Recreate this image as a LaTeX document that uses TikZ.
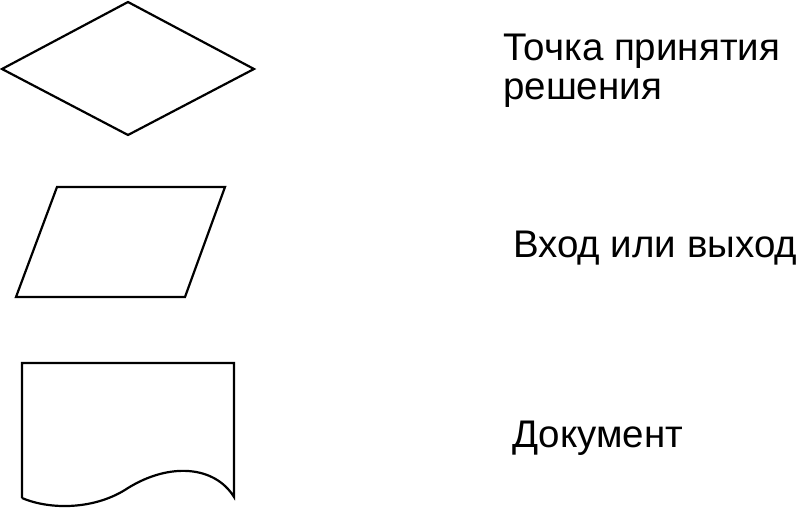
\documentclass[tikz,border=0pt]{standalone}
\usepackage{fontspec}
\setmainfont{Liberation Sans}
\begin{document}
\begin{tikzpicture}[x=1pt,y=-1pt,
  shapeline/.style={draw=black,line width=2.2pt,line join=miter},
  label/.style={anchor=base west,inner sep=0pt,font=\fontsize{38.5}{39}\selectfont,align=left}]
\useasboundingbox (0,0) rectangle (800,508);
% decision diamond
\draw[shapeline] (128,2) -- (254,69) -- (128,135) -- (2,69) -- cycle;
% input/output parallelogram
\draw[shapeline] (57,187) -- (225,187) -- (185,297) -- (16,297) -- cycle;
% document
\draw[shapeline] (22,498) -- (22,363) -- (234,363) -- (234,497)
  .. controls (215,466) and (170,462) .. (128,488)
  .. controls (95,510) and (50,510) .. (22,498);
\node[label] (t1) at (503,100) {Точка принятия\\решения};
\node[label] (t2) at (513,257) {Вход или выход};
\node[label] (t3) at (512,447) {Документ};
\end{tikzpicture}
\end{document}
